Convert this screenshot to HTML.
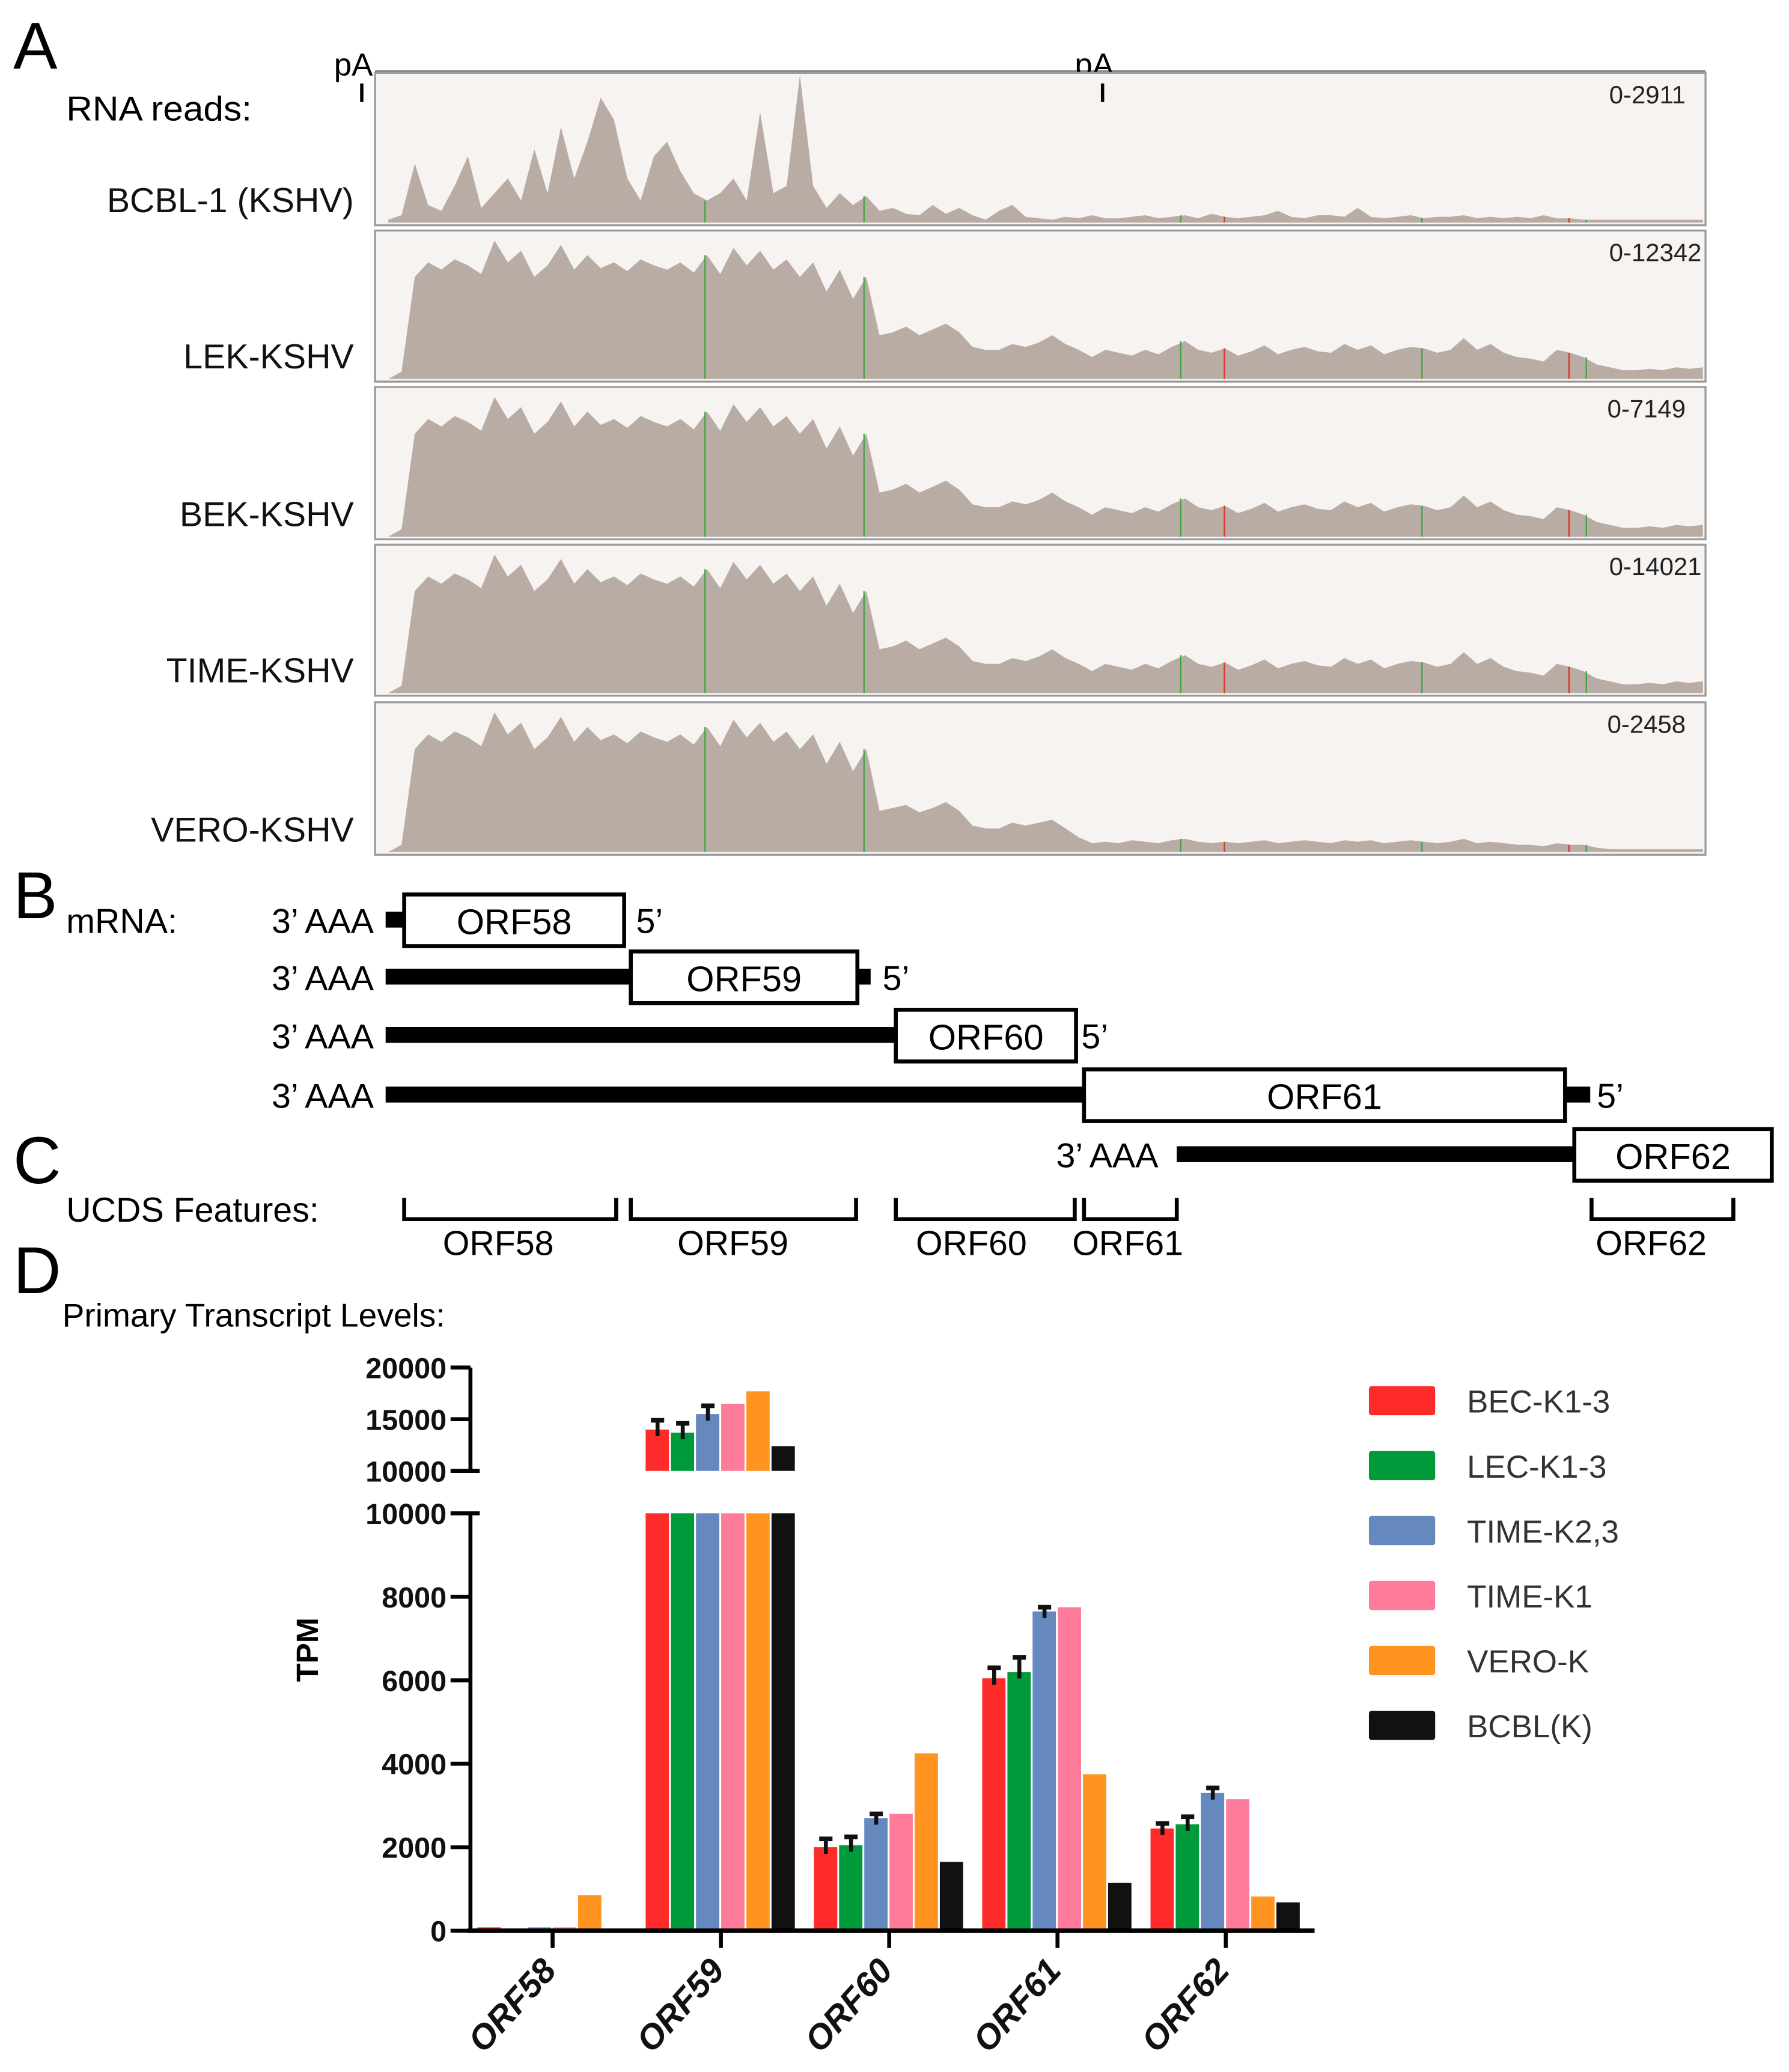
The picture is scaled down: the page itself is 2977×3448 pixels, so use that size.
<!DOCTYPE html>
<html><head><meta charset="utf-8"><style>
html,body{margin:0;padding:0;background:#fff}
svg{display:block}
text{font-family:"Liberation Sans",sans-serif}
</style></head><body>
<svg id="fig" width="2977" height="3448" viewBox="0 0 1350 1563.6" preserveAspectRatio="none" xmlns="http://www.w3.org/2000/svg">
<rect width="1350" height="1563.6" fill="#fff"/>
<g id="panelA">
<text x="10" y="52" font-size="50">A</text>
<text x="50" y="91" font-size="26" textLength="140" lengthAdjust="spacingAndGlyphs">RNA reads:</text>
<line x1="283" y1="54" x2="1287" y2="54" stroke="#888" stroke-width="2"/>
<text x="252" y="57" font-size="24">pA</text>
<text x="811" y="57" font-size="24">pA</text>
</g>
<g id="panelB"></g>
<g id="panelC"></g>
<g id="panelD"></g>
</svg>
<script>
// ---------- coverage data (fraction of track height, 100 bins) ----------
const covSamples = ["BCBL-1 (KSHV)","LEK-KSHV","BEK-KSHV","TIME-KSHV","VERO-KSHV"];
const covScales = ["0-2911","0-12342","0-7149","0-14021","0-2458"];
const covBCBL = [0.02,0.05,0.4,0.12,0.08,0.25,0.45,0.1,0.2,0.3,0.15,0.5,0.2,0.65,0.3,0.55,0.85,0.7,0.3,0.15,0.45,0.55,0.35,0.2,0.15,0.2,0.3,0.15,0.75,0.2,0.25,1.0,0.25,0.1,0.2,0.12,0.18,0.08,0.1,0.06,0.05,0.12,0.06,0.1,0.05,0.02,0.08,0.12,0.04,0.03,0.02,0.04,0.03,0.05,0.03,0.03,0.04,0.05,0.03,0.04,0.05,0.03,0.06,0.04,0.03,0.04,0.05,0.08,0.04,0.03,0.05,0.05,0.04,0.1,0.04,0.03,0.04,0.05,0.03,0.04,0.04,0.05,0.03,0.04,0.03,0.04,0.03,0.05,0.03,0.03,0.02,0.02,0.02,0.02,0.02,0.02,0.02,0.02,0.02,0.02];
const covLEK = [0,0.05,0.7,0.8,0.75,0.82,0.78,0.72,0.95,0.8,0.88,0.7,0.78,0.92,0.75,0.85,0.76,0.8,0.74,0.82,0.78,0.75,0.8,0.73,0.85,0.72,0.9,0.78,0.88,0.75,0.82,0.7,0.8,0.6,0.75,0.55,0.7,0.3,0.32,0.36,0.3,0.34,0.38,0.32,0.22,0.2,0.2,0.24,0.22,0.25,0.3,0.24,0.2,0.15,0.2,0.18,0.16,0.2,0.17,0.22,0.26,0.2,0.18,0.21,0.16,0.19,0.23,0.17,0.2,0.22,0.19,0.18,0.24,0.2,0.23,0.17,0.2,0.22,0.21,0.18,0.2,0.28,0.2,0.24,0.18,0.15,0.14,0.12,0.2,0.18,0.15,0.1,0.08,0.06,0.06,0.07,0.06,0.08,0.07,0.08];
const covVERO = [0,0.05,0.7,0.8,0.75,0.82,0.78,0.72,0.95,0.8,0.88,0.7,0.78,0.92,0.75,0.85,0.76,0.8,0.74,0.82,0.78,0.75,0.8,0.73,0.85,0.72,0.9,0.78,0.88,0.75,0.82,0.7,0.8,0.6,0.75,0.55,0.7,0.28,0.3,0.32,0.27,0.3,0.34,0.28,0.18,0.16,0.16,0.2,0.18,0.2,0.22,0.16,0.1,0.06,0.07,0.06,0.08,0.07,0.06,0.08,0.09,0.07,0.06,0.07,0.06,0.07,0.08,0.06,0.07,0.08,0.07,0.06,0.08,0.07,0.08,0.06,0.07,0.08,0.07,0.06,0.07,0.09,0.06,0.07,0.06,0.05,0.05,0.04,0.06,0.05,0.05,0.03,0.02,0.02,0.02,0.02,0.02,0.02,0.02,0.02];
const covSeries = [covBCBL,covLEK,covLEK,covLEK,covVERO];
const snpGreen = [532,652,891,1073,1197];
const snpRed = [924,1184];

// ---------- bar chart data ----------
const categories = ["ORF58","ORF59","ORF60","ORF61","ORF62"];
const seriesNames = ["BEC-K1-3","LEC-K1-3","TIME-K2,3","TIME-K1","VERO-K","BCBL(K)"];
const seriesColors = ["#ff2b2b","#009a3a","#6589be","#ff7b9a","#ff9421","#111111"];
const valBEC  = [80,14000,2000,6050,2450];
const valLEC  = [40,13700,2050,6200,2550];
const valTIME23 = [80,15500,2700,7650,3300];
const valTIME1 = [80,16500,2800,7750,3150];
const valVERO = [850,17700,4250,3750,820];
const valBCBL = [50,12400,1650,1150,680];
const errBEC = [0,900,200,250,120];
const errLEC = [0,900,200,350,180];
const errTIME23 = [0,800,100,100,120];
const lowerTicks = [0,2000,4000,6000,8000,10000];
const upperTicks = [10000,15000,20000];

const NS="http://www.w3.org/2000/svg";
function mk(parent,tag,attrs,txt){const e=document.createElementNS(NS,tag);for(const k in attrs)e.setAttribute(k,attrs[k]);if(txt!==undefined)e.textContent=txt;parent.appendChild(e);return e;}

// ---------- Panel A ----------
const pA=document.getElementById('panelA');
const tracks=[[55,170],[174,288],[292,407],[411,525],[530,645]];
const X0=283,X1=1287,cx0=293,cx1=1285;
function covX(i){return cx0+i*(cx1-cx0)/99;}
covSamples.forEach((name,t)=>{
  const [y0,y1]=tracks[t];
  const r=mk(pA,'rect',{x:X0,y:y0,width:X1-X0,height:y1-y0,fill:'#f6f3f1',stroke:'#9a9a9a','stroke-width':1.5});
  
  
  const data=covSeries[t];const h=(y1-y0-4);const base=y1-2;
  let d='M'+cx0+','+base;
  data.forEach((v,i)=>{d+=' L'+covX(i).toFixed(1)+','+(base-v*h).toFixed(1);});
  d+=' L'+cx1+','+base+' Z';
  const p=mk(pA,'path',{d:d,fill:'#b8aca5'});
  
  
  function covAt(x){const i=Math.round((x-cx0)/(cx1-cx0)*99);return data[Math.max(0,Math.min(99,i))];}
  snpGreen.forEach(x=>{mk(pA,'line',{x1:x,x2:x,y1:base,y2:base-covAt(x)*h,stroke:'#3aa63a','stroke-width':1});});
  snpRed.forEach(x=>{mk(pA,'line',{x1:x,x2:x,y1:base,y2:base-covAt(x)*h,stroke:'#e03a2a','stroke-width':1.2});});
  const s=mk(pA,'text',{x:1272,y:y0+23,'font-size':19,'text-anchor':'end',fill:'#222'},covScales[t]);
  if(covScales[t].length>6){s.setAttribute('x',1284);}
  
  
  const l=mk(pA,'text',{x:267,y:y1-10,'font-size':26,'text-anchor':'end',fill:'#111'},name);
  
  
});
// pA ticks on top of panels
const t1=mk(pA,'line',{x1:273,y1:63,x2:273,y2:77,stroke:'#000','stroke-width':2.5});


const t2=mk(pA,'line',{x1:832,y1:63,x2:832,y2:77,stroke:'#000','stroke-width':2.5});



// ---------- Panel B ----------
const pB=document.getElementById('panelB');
mk(pB,'text',{x:10,y:693,'font-size':50},'B');
mk(pB,'text',{x:50,y:704,'font-size':26},'mRNA:');
const rows=[
 {aaa:205,y:694,line:[291,305],box:[305,471],name:'ORF58',stub:null,five:480},
 {aaa:205,y:737,line:[291,476],box:[476,647],name:'ORF59',stub:[647,657],five:666},
 {aaa:205,y:781,line:[291,676],box:[676,812],name:'ORF60',stub:null,five:816},
 {aaa:205,y:826,line:[291,818],box:[818,1181],name:'ORF61',stub:[1181,1200],five:1205},
 {aaa:797,y:871,line:[888,1188],box:[1188,1337],name:'ORF62',stub:null,five:null}
];
rows.forEach(r=>{
  const g=mk(pB,'g',{});
  
  
  mk(g,'text',{x:r.aaa,y:r.y+10,'font-size':26},'3\u2019 AAA');
  mk(g,'rect',{x:r.line[0],y:r.y-6,width:r.line[1]-r.line[0],height:12,fill:'#000'});
  if(r.stub)mk(g,'rect',{x:r.stub[0],y:r.y-6,width:r.stub[1]-r.stub[0],height:12,fill:'#000'});
  mk(g,'rect',{x:r.box[0],y:r.y-19,width:r.box[1]-r.box[0],height:39,fill:'#fff',stroke:'#000','stroke-width':3});
  mk(g,'text',{x:(r.box[0]+r.box[1])/2,y:r.y+11,'font-size':27,'text-anchor':'middle'},r.name);
  if(r.five)mk(g,'text',{x:r.five,y:r.y+10,'font-size':26},'5\u2019');
});

// ---------- Panel C ----------
const pC=document.getElementById('panelC');
mk(pC,'text',{x:10,y:893,'font-size':50},'C');
mk(pC,'text',{x:50,y:922,'font-size':26},'UCDS Features:');
const ucds=[[305,465,'ORF58',376],[476,646,'ORF59',553],[676,811,'ORF60',733],[818,888,'ORF61',851],[1201,1308,'ORF62',1246]];
ucds.forEach(u=>{
  const g=mk(pC,'g',{});
  
  
  mk(g,'path',{d:`M${u[0]},904 L${u[0]},920 L${u[1]},920 L${u[1]},904`,fill:'none',stroke:'#000','stroke-width':3});
  mk(g,'text',{x:u[3],y:947,'font-size':26,'text-anchor':'middle'},u[2]);
});

// ---------- Panel D (bar chart) ----------
const pD=document.getElementById('panelD');
mk(pD,'text',{x:10,y:976,'font-size':50},'D');
mk(pD,'text',{x:47,y:1001,'font-size':25},'Primary Transcript Levels:');
const axX=355,axRight=992;
function yLow(v){return 1457-v*(1457-1142)/10000;}
function yUp(v){return 1110-(v-10000)*(1110-1032)/10000;}
function xCat(i){return 417+i*127;}
const allVals=[valBEC,valLEC,valTIME23,valTIME1,valVERO,valBCBL];
const allErr=[errBEC,errLEC,errTIME23,null,null,null];
const bw=19,gap=0.2;
categories.forEach((c,ci)=>{
  allVals.forEach((vals,si)=>{
    const v=vals[ci];const x=xCat(ci)-57+si*bw+gap;const col=seriesColors[si];
    const vLow=Math.min(v,10000);
    const b=mk(pD,'rect',{x:x,y:yLow(vLow),width:bw-2*gap-1,height:1457-yLow(vLow),fill:col});
    
    
    let topY=yLow(vLow);
    if(v>10000){
      const bu=mk(pD,'rect',{x:x,y:yUp(v),width:bw-2*gap-1,height:1110-yUp(v),fill:col});
      
      
      topY=yUp(v);
    }
    const e=allErr[si];
    if(e&&e[ci]>0){
      const ex=x+bw/2-0.5;
      const ey=v>10000?yUp(v+e[ci]):yLow(v+e[ci]);
      mk(pD,'line',{x1:ex,x2:ex,y1:topY+5,y2:ey,stroke:'#111','stroke-width':3});
      mk(pD,'line',{x1:ex-5,x2:ex+5,y1:ey,y2:ey,stroke:'#111','stroke-width':3.5});
    }
  });
});
// axes
mk(pD,'line',{x1:axX,x2:axX,y1:1142,y2:1458,stroke:'#000','stroke-width':3});
mk(pD,'line',{x1:axX,x2:axX,y1:1032,y2:1110,stroke:'#000','stroke-width':3});
mk(pD,'line',{x1:axX-2,x2:axRight,y1:1457,y2:1457,stroke:'#000','stroke-width':3.5});
lowerTicks.forEach(t=>{
  const y=yLow(t);
  mk(pD,'line',{x1:340,x2:t===10000?362:axX,y1:y,y2:y,stroke:'#000','stroke-width':3});
  const tx=mk(pD,'text',{x:337,y:y+8,'font-size':22,'font-weight':'bold','text-anchor':'end',fill:'#111'},String(t));
  
  
});
upperTicks.forEach(t=>{
  const y=yUp(t);
  mk(pD,'line',{x1:340,x2:t===10000?362:axX,y1:y,y2:y,stroke:'#000','stroke-width':3});
  const tx=mk(pD,'text',{x:337,y:y+8,'font-size':22,'font-weight':'bold','text-anchor':'end',fill:'#111'},String(t));
  
  
});
categories.forEach((c,ci)=>{
  const x=xCat(ci);
  mk(pD,'line',{x1:x,x2:x,y1:1457,y2:1470,stroke:'#000','stroke-width':3});
  const t=mk(pD,'text',{x:x+4,y:1488,'font-size':26,'font-weight':'bold','font-style':'italic','text-anchor':'end',transform:`rotate(-48 ${x+4} 1488)`,fill:'#111'},c);
  
  
});
const yt=mk(pD,'text',{x:240,y:1245,'font-size':23,'font-weight':'bold','text-anchor':'middle',transform:'rotate(-90 240 1245)'},'TPM');


// legend
seriesNames.forEach((n,i)=>{
  const y=1057+i*49;
  const g=mk(pD,'g',{});
  
  
  mk(g,'rect',{x:1033,y:y-11,width:50,height:22,rx:2,fill:seriesColors[i]});
  mk(g,'text',{x:1107,y:y+9,'font-size':24,fill:'#333'},n);
});
</script>
</body></html>
